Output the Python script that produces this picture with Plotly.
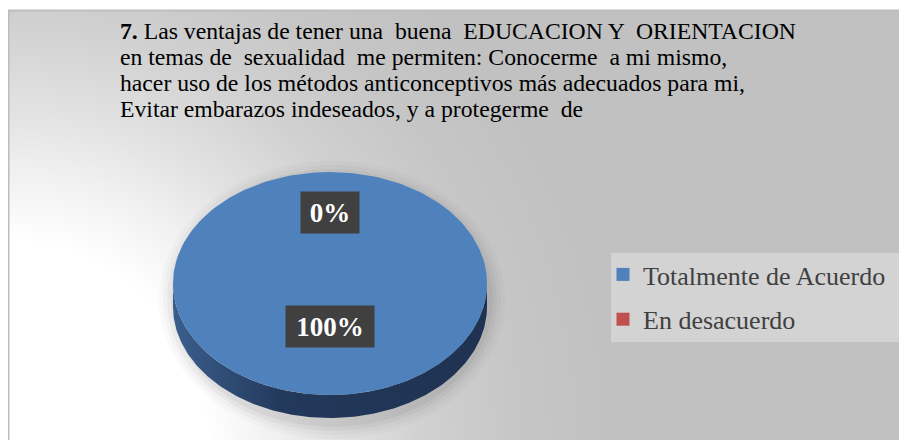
import base64
import numpy as np
import plotly.graph_objects as go

# datos
categorias = ["Totalmente de Acuerdo", "En desacuerdo"]
valores = [100, 0]
colores = ["#4f81bd", "#c0504d"]
titulo = ["<b>7.</b> Las ventajas de tener una  buena  EDUCACION Y  ORIENTACION",
          "en temas de  sexualidad  me permiten: Conocerme  a mi mismo,",
          "hacer uso de los métodos anticonceptivos más adecuados para mi,",
          "Evitar embarazos indeseados, y a protegerme  de"]

W, H = 907, 440
OFF = 8  # margen del <body> de la pagina
cx, cy, a, b, depth = 330, 283.5, 157, 111.5, 23
serif = "Liberation Serif"


def px(x):
    return (x - OFF) / W


def py(y):
    return 1 - (y - OFF) / H


def rim(t0, t1, n=200):
    t = np.linspace(t0, t1, n)
    return cx + a * np.sin(t), cy - b * np.cos(t)


fig = go.Figure()

# sombra suave bajo el pastel
t = np.linspace(0, 2 * np.pi, 200)
for k, alpha in [(16, 0.02), (12, 0.025), (8, 0.035), (4, 0.045)]:
    fig.add_trace(go.Scatter(
        x=cx + 2 + (a + k) * np.sin(t), y=cy + depth / 2 + 5 - (b + depth / 2 + k) * np.cos(t),
        mode="lines", fill="toself", fillcolor="rgba(0,0,0,%g)" % alpha,
        line=dict(width=0), hoverinfo="skip", showlegend=False))

total = sum(valores)
start = 0.0
for cat, val, col in zip(categorias, valores, colores):
    span = 2 * np.pi * val / total
    t0, t1 = start, start + span
    # pared lateral (solo la mitad frontal)
    s, e = max(t0, np.pi / 2), min(t1, 3 * np.pi / 2)
    if e > s:
        x1, y1 = rim(s, e)
        xs = np.concatenate([x1, x1[::-1]])
        ys = np.concatenate([y1, y1[::-1] + depth])
        fig.add_trace(go.Scatter(
            x=xs, y=ys, mode="lines", fill="toself", line=dict(width=0),
            fillgradient=dict(type="horizontal",
                              colorscale=[[0, "#3a5e8c"], [0.35, "#23395b"], [1, "#1f3251"]]),
            hoverinfo="skip", showlegend=False))
    if span > 0:
        x1, y1 = rim(t0, t1)
        if span < 2 * np.pi - 1e-9:
            x1 = np.concatenate([[cx], x1, [cx]])
            y1 = np.concatenate([[cy], y1, [cy]])
        fig.add_trace(go.Scatter(
            x=x1, y=y1, mode="lines", fill="toself", fillcolor=col,
            line=dict(width=0), hoverinfo="skip", showlegend=False))
    # etiqueta
    mid = (t0 + t1) / 2
    txt = "%d%%" % round(val / total * 100)
    fig.add_annotation(
        x=cx + 0.513 * a * np.sin(mid), y=cy - 0.513 * b * np.cos(mid) - 14,
        text="<b>%s</b>" % txt, showarrow=False,
        font=dict(family=serif, size=27, color="white"),
        bgcolor="#404040", width=15 * len(txt) + 20, height=33, borderpad=4)
    start = t1

# leyenda
for i, (cat, col) in enumerate(zip(categorias, colores)):
    fig.add_trace(go.Scatter(
        x=[None], y=[None], mode="markers", name=cat, legendgroup=str(i),
        marker=dict(symbol="square", size=13, color=col)))

svg = ("<svg xmlns='http://www.w3.org/2000/svg' width='899' height='430'>"
       "<defs><radialGradient id='g' gradientUnits='userSpaceOnUse' cx='0' cy='430' r='600'>"
       "<stop offset='0' stop-color='#ffffff'/><stop offset='0.33' stop-color='#ffffff'/>"
       "<stop offset='0.45' stop-color='#f0f0f0'/><stop offset='0.55' stop-color='#e2e2e2'/>"
       "<stop offset='0.7' stop-color='#d0d0d0'/><stop offset='0.85' stop-color='#c6c6c6'/>"
       "<stop offset='1' stop-color='#c1c1c1'/>"
       "</radialGradient></defs><rect width='899' height='430' fill='url(#g)'/></svg>")
fondo = "data:image/svg+xml;base64," + base64.b64encode(svg.encode()).decode()

fig.add_layout_image(source=fondo, xref="paper", yref="paper", x=px(8), y=py(10),
                     sizex=899 / W, sizey=430 / H, sizing="stretch",
                     xanchor="left", yanchor="top", layer="below")
fig.add_shape(type="rect", xref="paper", yref="paper", x0=px(8.5), x1=1.02, y0=-0.02,
              y1=py(10.5), line=dict(color="#bdbdbd", width=2), layer="below")
# caja de la leyenda
fig.add_shape(type="rect", xref="paper", yref="paper", x0=px(611), x1=px(904),
              y0=py(342), y1=py(253), fillcolor="#d3d3d3",
              line=dict(width=0), layer="below")

for i, linea in enumerate(titulo):
    fig.add_annotation(xref="paper", yref="paper", x=px(118), y=py(31 + 26 * i),
                       xanchor="left", yanchor="middle", align="left", showarrow=False,
                       text=linea, font=dict(family=serif, size=23.7, color="black"))

fig.update_layout(
    width=W, height=H, margin=dict(l=0, r=0, t=0, b=0),
    paper_bgcolor="white", plot_bgcolor="rgba(0,0,0,0)",
    xaxis=dict(range=[OFF, OFF + W], visible=False, fixedrange=True),
    yaxis=dict(range=[OFF + H, OFF], visible=False, fixedrange=True),
    legend=dict(x=px(603), y=py(251), xanchor="left", yanchor="top",
                bgcolor="rgba(0,0,0,0)", tracegroupgap=8, traceorder="grouped",
                font=dict(family=serif, size=26, color="#404040")),
    showlegend=True,
)

fig.write_html("out.html")
